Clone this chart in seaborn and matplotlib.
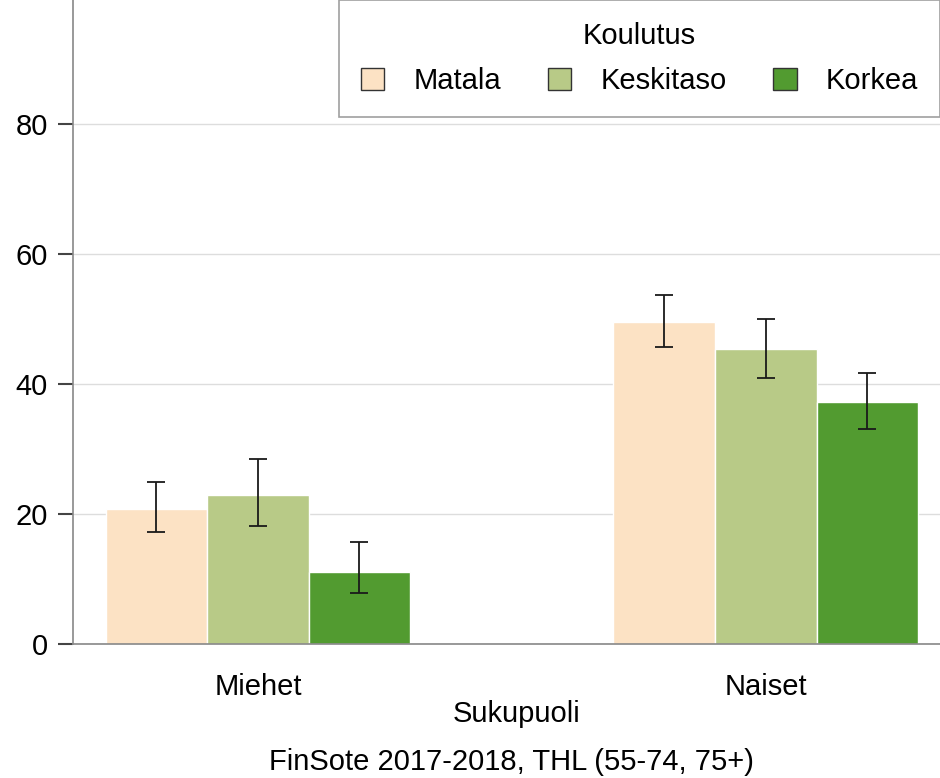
import pandas as pd
import numpy as np
import seaborn as sns
import matplotlib.pyplot as plt
from matplotlib.patches import Patch

# Data
sukupuoli = ['Miehet', 'Naiset']
koulutus = ['Matala', 'Keskitaso', 'Korkea']
arvot = {
    'Matala': [20.8, 49.5],
    'Keskitaso': [22.9, 45.4],
    'Korkea': [11.1, 37.2],
}
ala = {
    'Matala': [17.2, 45.7],
    'Keskitaso': [18.2, 40.9],
    'Korkea': [7.8, 33.1],
}
yla = {
    'Matala': [24.9, 53.7],
    'Keskitaso': [28.5, 50.0],
    'Korkea': [15.7, 41.7],
}
varit = ['#FCE2C4', '#B8CA87', '#529B30']

rows = []
for k in koulutus:
    for i, s in enumerate(sukupuoli):
        rows.append({'Sukupuoli': s, 'Koulutus': k, 'arvo': arvot[k][i],
                     'ala': ala[k][i], 'yla': yla[k][i]})
df = pd.DataFrame(rows)

sns.set_style('white')
plt.rcParams['font.family'] = ['Liberation Sans', 'DejaVu Sans']
plt.rcParams['text.color'] = 'black'
plt.rcParams['axes.labelcolor'] = 'black'
plt.rcParams['xtick.color'] = 'black'
plt.rcParams['ytick.color'] = 'black'

fs = 21

fig = plt.figure(figsize=(9.4, 7.78), dpi=100)
ax = fig.add_axes([0.0777, 0.1722, 0.9223, 0.8278])

sns.barplot(data=df, x='Sukupuoli', y='arvo', hue='Koulutus', order=sukupuoli,
            hue_order=koulutus, palette=varit, saturation=1, width=0.6,
            errorbar=None, edgecolor='white', linewidth=1, legend=False,
            ax=ax, zorder=2)

# virhepalkit palkkien keskelle
for cont, k in zip(ax.containers, koulutus):
    sub = df[df['Koulutus'] == k].set_index('Sukupuoli').loc[sukupuoli]
    xs = [p.get_x() + p.get_width() / 2 for p in cont.patches]
    ax.errorbar(xs, sub['arvo'],
                yerr=[sub['arvo'] - sub['ala'], sub['yla'] - sub['arvo']],
                fmt='none', ecolor='#1a1a1a', elinewidth=1.3, capsize=6.5,
                capthick=1.3, zorder=3)

ax.set_xlim(-0.364, 1.343)
ax.set_ylim(0, 99)
ax.set_yticks([0, 20, 40, 60, 80])
ax.grid(axis='y', color='#dddddd', linewidth=1, zorder=0)
ax.set_axisbelow(True)

for side in ['top', 'right']:
    ax.spines[side].set_visible(False)
for side in ['left', 'bottom']:
    ax.spines[side].set_color('#888888')
    ax.spines[side].set_linewidth(1.2)

ax.tick_params(axis='y', length=11, width=1.5, color='#444444', labelsize=fs,
               left=True, pad=7)
ax.tick_params(axis='x', length=0, labelsize=fs, pad=21)
ax.set_xlabel('Sukupuoli', fontsize=fs)
ax.xaxis.set_label_coords(0.512, -0.108)
ax.xaxis.label.set_va('center')
ax.set_ylabel('')

handles = [Patch(facecolor=c, edgecolor='#333333', linewidth=1) for c in varit]
leg = ax.legend(handles, koulutus, title='Koulutus', ncol=3, loc='upper right',
                bbox_to_anchor=(1.0, 1.0), borderaxespad=0, fontsize=fs,
                title_fontsize=fs, frameon=True, fancybox=False,
                edgecolor='#888888', handlelength=0.8, handleheight=0.8,
                columnspacing=1.6, handletextpad=1.0, borderpad=0.75,
                labelspacing=0.6)
leg.get_frame().set_linewidth(1.2)

fig.text(511 / 940, 1 - 762 / 778, 'FinSote 2017-2018, THL (55-74, 75+)',
         ha='center', va='center', fontsize=fs)

fig.savefig('out.png', dpi=100)
